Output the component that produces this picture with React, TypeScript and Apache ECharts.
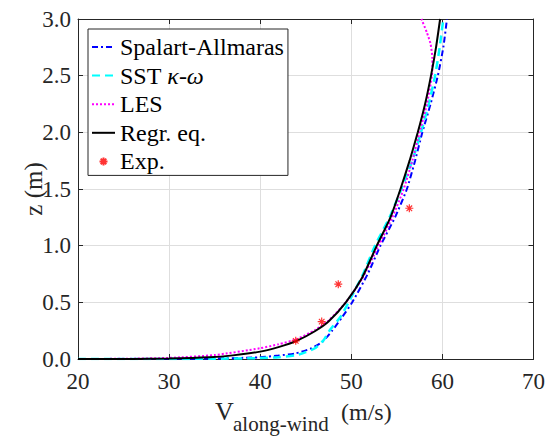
import React, { useEffect, useRef } from "react";
import * as echarts from "echarts";

const FONT = "Liberation Serif";
const AXIS_COLOR = "#262626";

const X_TICKS = [20, 30, 40, 50, 60, 70];
const Y_TICKS = [0, 0.5, 1.0, 1.5, 2.0, 2.5, 3.0];

// Spalart-Allmaras (blue dash-dot)
const SA_V = [20, 30, 35, 39.9, 42, 43.9, 45.5, 46.8, 47.9, 49, 50.1, 51.8, 53.2, 54.8, 56.1, 57.0, 57.8, 58.7, 59.5, 60.1, 60.5];
const SA_Z = [0, 0.001, 0.004, 0.015, 0.03, 0.05, 0.09, 0.15, 0.25, 0.37, 0.5, 0.75, 1.0, 1.25, 1.5, 1.75, 2.0, 2.25, 2.5, 2.75, 3.0];

// SST k-w (cyan dashed)
const SST_V = [20, 30, 35, 40, 42, 44, 45, 46.1, 47, 47.6, 48.8, 49.7, 51.3, 52.6, 54.2, 55.5, 56.7, 57.65, 58.5, 59.2, 59.7, 60.1];
const SST_Z = [0, 0.0005, 0.002, 0.008, 0.016, 0.035, 0.06, 0.1, 0.17, 0.25, 0.37, 0.5, 0.75, 1.0, 1.25, 1.5, 1.75, 2.0, 2.25, 2.5, 2.75, 3.0];

// LES (magenta dotted)
const LES_V = [20, 25, 30, 35, 40, 42, 44, 46, 47.5, 49.4, 51.2, 53, 54.5, 55.75, 56.7, 57.5, 58.3, 58.85, 58.9, 58.7, 58.3, 57.7];
const LES_Z = [0, 0.002, 0.01, 0.035, 0.095, 0.13, 0.175, 0.255, 0.34, 0.5, 0.71, 1.0, 1.25, 1.5, 1.75, 2.0, 2.25, 2.5, 2.65, 2.78, 2.88, 3.0];

// Regression equation (black solid)
const REG_V = [20, 26, 30, 34.4, 37, 40, 42, 44, 46, 47.5, 49.4, 51.2, 52.8, 54.3, 55.4, 56.4, 57.3, 58.1, 58.75, 59.3, 59.75];
const REG_Z = [0, 0.001, 0.004, 0.015, 0.032, 0.065, 0.105, 0.16, 0.245, 0.33, 0.5, 0.72, 1.0, 1.25, 1.5, 1.75, 2.0, 2.25, 2.5, 2.75, 3.0];

// Experiments (red asterisks)
const EXP_V = [43.9, 46.75, 48.57, 56.37];
const EXP_Z = [0.16, 0.33, 0.66, 1.33];

const pairs = (xs: number[], ys: number[]) => xs.map((x, i) => [x, ys[i]]);

const ASTERISK = "path://M0,-5L0,5M-5,0L5,0M-3.5,-3.5L3.5,3.5M-3.5,3.5L3.5,-3.5";

export default function App() {
  const ref = useRef<HTMLDivElement>(null);
  useEffect(() => {
    document.body.style.margin = "0";
    const chart = echarts.init(ref.current!, undefined, { renderer: "svg" });
    const gridSplit = { show: true, lineStyle: { color: "#dedede", width: 1 } };
    const hidden = { opacity: 0 };
    const tickFont = { fontFamily: FONT, fontSize: 23, color: AXIS_COLOR, fontWeight: "normal" };
    const option: any = {
      animation: false,
      backgroundColor: "#ffffff",
      textStyle: { fontFamily: FONT },
      grid: { left: 78, top: 19, right: 12, bottom: 77, containLabel: false },
      xAxis: [
        {
          type: "value",
          min: X_TICKS[0],
          max: X_TICKS[X_TICKS.length - 1],
          interval: 10,
          axisLine: { show: true, onZero: false, lineStyle: { color: AXIS_COLOR, width: 1 } },
          axisTick: { show: true, inside: true, length: 5, lineStyle: { color: AXIS_COLOR } },
          axisLabel: { show: true, margin: 11, ...tickFont },
          splitLine: gridSplit,
        },
        {
          type: "value",
          position: "top",
          min: X_TICKS[0],
          max: X_TICKS[X_TICKS.length - 1],
          interval: 10,
          axisLine: { show: true, onZero: false, lineStyle: { color: AXIS_COLOR, width: 1 } },
          axisTick: { show: true, inside: true, length: 5, lineStyle: { color: AXIS_COLOR } },
          axisLabel: { show: false },
          splitLine: { show: false },
        },
      ],
      yAxis: [
        {
          type: "value",
          min: Y_TICKS[0],
          max: Y_TICKS[Y_TICKS.length - 1],
          interval: 0.5,
          axisLine: { show: true, onZero: false, lineStyle: { color: AXIS_COLOR, width: 1 } },
          axisTick: { show: true, inside: true, length: 5, lineStyle: { color: AXIS_COLOR } },
          axisLabel: {
            show: true,
            margin: 7,
            ...tickFont,
            formatter: (v: number) => v.toFixed(1),
          },
          splitLine: gridSplit,
        },
        {
          type: "value",
          position: "right",
          min: Y_TICKS[0],
          max: Y_TICKS[Y_TICKS.length - 1],
          interval: 0.5,
          axisLine: { show: true, onZero: false, lineStyle: { color: AXIS_COLOR, width: 1 } },
          axisTick: { show: true, inside: true, length: 5, lineStyle: { color: AXIS_COLOR } },
          axisLabel: { show: false },
          splitLine: { show: false },
        },
      ],
      legend: {
        orient: "vertical",
        left: 88,
        top: 29,
        padding: [6, 4, 2, 3],
        itemWidth: 23,
        itemHeight: 8,
        itemGap: 4.6,
        backgroundColor: "#ffffff",
        borderColor: AXIS_COLOR,
        borderWidth: 1,
        textStyle: {
          fontFamily: FONT,
          fontSize: 24,
          lineHeight: 24,
          color: "#000000",
          rich: {
            n: { fontFamily: FONT, fontSize: 24, color: "#000000" },
            i: { fontFamily: FONT, fontSize: 24, fontStyle: "italic", color: "#000000" },
          },
        },
        formatter: (name: string) =>
          name === "SST κ-ω" ? "{n|SST }{i|κ}{n|-}{i|ω}" : name,
        data: [
          { name: "Spalart-Allmaras", itemStyle: hidden },
          { name: "SST κ-ω", itemStyle: hidden },
          { name: "LES", itemStyle: hidden },
          { name: "Regr. eq.", itemStyle: hidden },
          { name: "Exp." },
        ],
      },
      series: [
        {
          name: "Spalart-Allmaras",
          type: "line",
          symbol: "none",
          smooth: 0.2,
          data: pairs(SA_V, SA_Z),
          lineStyle: { color: "#0000ff", width: 2, type: [6, 3, 2, 3] },
          itemStyle: { color: "#0000ff" },
          z: 2,
        },
        {
          name: "SST κ-ω",
          type: "line",
          symbol: "none",
          smooth: 0.2,
          data: pairs(SST_V, SST_Z),
          lineStyle: { color: "#00ffff", width: 2.5, type: [8, 5] },
          itemStyle: { color: "#00ffff" },
          z: 3,
        },
        {
          name: "LES",
          type: "line",
          symbol: "none",
          smooth: 0.2,
          data: pairs(LES_V, LES_Z),
          lineStyle: { color: "#ff00ff", width: 2, type: [2, 2] },
          itemStyle: { color: "#ff00ff" },
          z: 4,
        },
        {
          name: "Regr. eq.",
          type: "line",
          symbol: "none",
          smooth: 0.2,
          data: pairs(REG_V, REG_Z),
          lineStyle: { color: "#000000", width: 2 },
          itemStyle: { color: "#000000" },
          z: 5,
        },
        {
          name: "Exp.",
          type: "scatter",
          symbol: ASTERISK,
          symbolSize: 8,
          data: pairs(EXP_V, EXP_Z),
          itemStyle: { color: "#ff0000", borderColor: "#ff0000", borderWidth: 1.2 },
          z: 6,
        },
      ],
      graphic: [
        {
          type: "text",
          x: 215,
          y: 411,
          style: { text: "V", fontFamily: FONT, fontSize: 26, fill: AXIS_COLOR, align: "left", verticalAlign: "middle" },
        },
        {
          type: "text",
          x: 233,
          y: 424,
          style: { text: "along-wind", fontFamily: FONT, fontSize: 21, fill: AXIS_COLOR, align: "left", verticalAlign: "middle" },
        },
        {
          type: "text",
          x: 341,
          y: 412,
          style: { text: "(m/s)", fontFamily: FONT, fontSize: 24, fill: AXIS_COLOR, align: "left", verticalAlign: "middle" },
        },
        {
          type: "text",
          x: 33,
          y: 189,
          rotation: Math.PI / 2,
          style: { text: "z (m)", fontFamily: FONT, fontSize: 25, fill: AXIS_COLOR, align: "center", verticalAlign: "middle" },
        },
      ],
    };
    chart.setOption(option);
    return () => chart.dispose();
  }, []);
  return <div ref={ref} style={{ position: "fixed", left: 0, top: 0, width: 548, height: 436 }} />;
}
